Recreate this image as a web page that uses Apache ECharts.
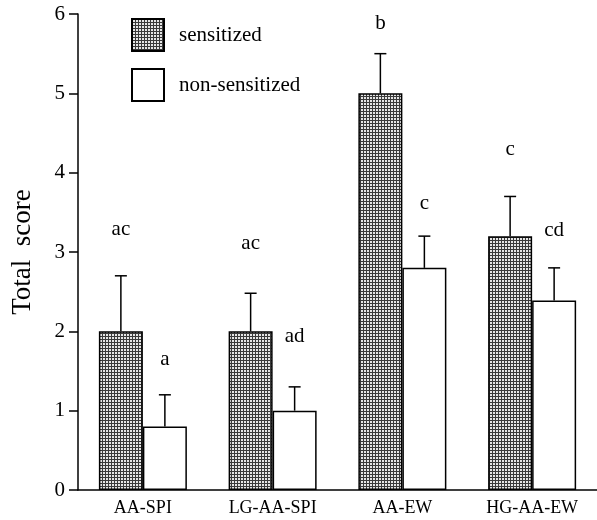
<!DOCTYPE html>
<html>
<head>
<meta charset="utf-8">
<script src="https://cdn.jsdelivr.net/npm/echarts@6/dist/echarts.min.js"></script>
<style>html,body{margin:0;padding:0;background:#fff}#c{width:597px;height:520px}</style>
</head>
<body>
<div id="c"></div>
<script>
var categories = ['AA-SPI', 'LG-AA-SPI', 'AA-EW', 'HG-AA-EW'];
var sensitized = [2.0, 2.0, 5.0, 3.2];
var sensitizedErr = [0.7, 0.48, 0.5, 0.5];
var nonSensitized = [0.8, 1.0, 2.8, 2.39];
var nonSensitizedErr = [0.4, 0.3, 0.4, 0.41];
var sensLetters = ['ac', 'ac', 'b', 'c'];
var sensLetterY = [3.28, 3.11, 5.88, 4.29];
var nonLetters = ['a', 'ad', 'c', 'cd'];
var nonLetterY = [1.64, 1.93, 3.61, 3.27];
var yTicks = [0, 1, 2, 3, 4, 5, 6];

var FONT = '"Liberation Serif", "Times New Roman", serif';
var BAR_W = 44;

function makePattern() {
  var cv = document.createElement('canvas');
  cv.width = 3; cv.height = 3;
  var ctx = cv.getContext('2d');
  ctx.fillStyle = '#e6e6e6';
  ctx.fillRect(0, 0, 3, 3);
  ctx.fillStyle = '#3a3a3a';
  ctx.fillRect(0, 0, 3, 1);
  ctx.fillRect(0, 0, 1, 3);
  return cv;
}
var pattern = { image: makePattern(), repeat: 'repeat' };

function errSeries(vals, errs, dir) {
  return {
    type: 'custom',
    z: 5,
    silent: true,
    data: vals.map(function (v, i) { return [i, v, v + errs[i]]; }),
    renderItem: function (params, api) {
      var lo = api.coord([api.value(0), api.value(1)]);
      var hi = api.coord([api.value(0), api.value(2)]);
      var x = lo[0] + dir * BAR_W / 2;
      return {
        type: 'group',
        children: [
          { type: 'line', shape: { x1: x, y1: lo[1], x2: x, y2: hi[1] }, style: { stroke: '#000', lineWidth: 1.5 } },
          { type: 'line', shape: { x1: x - 6, y1: hi[1], x2: x + 6, y2: hi[1] }, style: { stroke: '#000', lineWidth: 1.5 } }
        ]
      };
    }
  };
}

function letterSeries(ys, letters, dir) {
  return {
    type: 'custom',
    z: 6,
    silent: true,
    data: ys.map(function (y, i) { return [i, y]; }),
    renderItem: function (params, api) {
      var p = api.coord([api.value(0), api.value(1)]);
      return {
        type: 'text',
        style: {
          x: p[0] + dir * BAR_W / 2, y: p[1],
          text: letters[params.dataIndex],
          fill: '#000', font: '21px ' + FONT,
          textAlign: 'center', textVerticalAlign: 'middle'
        }
      };
    }
  };
}

var chart = echarts.init(document.getElementById('c'), null, { renderer: 'canvas' });
chart.setOption({
  animation: false,
  backgroundColor: '#fff',
  grid: { left: 78, top: 14, width: 523, bottom: 30, containLabel: false },
  legend: {
    orient: 'vertical',
    left: 131, top: 18, padding: 0,
    itemWidth: 32, itemHeight: 32, itemGap: 16,
    icon: 'rect',
    textStyle: { fontFamily: FONT, fontSize: 21, color: '#000', padding: [0, 0, 0, 10] },
    data: ['sensitized', 'non-sensitized']
  },
  xAxis: {
    type: 'category',
    data: categories,
    axisLine: { lineStyle: { color: '#000', width: 1.5 } },
    axisTick: { show: false },
    axisLabel: { color: '#000', fontFamily: FONT, fontSize: 18, margin: 9 }
  },
  yAxis: {
    type: 'value',
    min: 0, max: 6, interval: 1,
    name: 'Total  score',
    nameLocation: 'middle',
    nameGap: 42,
    nameTextStyle: { fontFamily: FONT, fontSize: 27, color: '#000' },
    axisLine: { show: true, lineStyle: { color: '#000', width: 1.5 } },
    axisTick: { show: true, length: 9, lineStyle: { color: '#000', width: 1.5 } },
    splitLine: { show: false },
    axisLabel: {
      color: '#000', fontFamily: FONT, fontSize: 21, margin: 13,
      formatter: function (v) { return yTicks.indexOf(v) >= 0 ? String(v) : ''; }
    }
  },
  series: [
    {
      name: 'sensitized', type: 'bar', data: sensitized,
      barWidth: BAR_W, barGap: '0%',
      itemStyle: { color: pattern, borderColor: '#000', borderWidth: 1.5 }
    },
    {
      name: 'non-sensitized', type: 'bar', data: nonSensitized,
      barWidth: BAR_W, barGap: '0%',
      itemStyle: { color: '#fff', borderColor: '#000', borderWidth: 1.5 }
    },
    errSeries(sensitized, sensitizedErr, -1),
    errSeries(nonSensitized, nonSensitizedErr, 1),
    letterSeries(sensLetterY, sensLetters, -1),
    letterSeries(nonLetterY, nonLetters, 1)
  ]
});
</script>
</body>
</html>
